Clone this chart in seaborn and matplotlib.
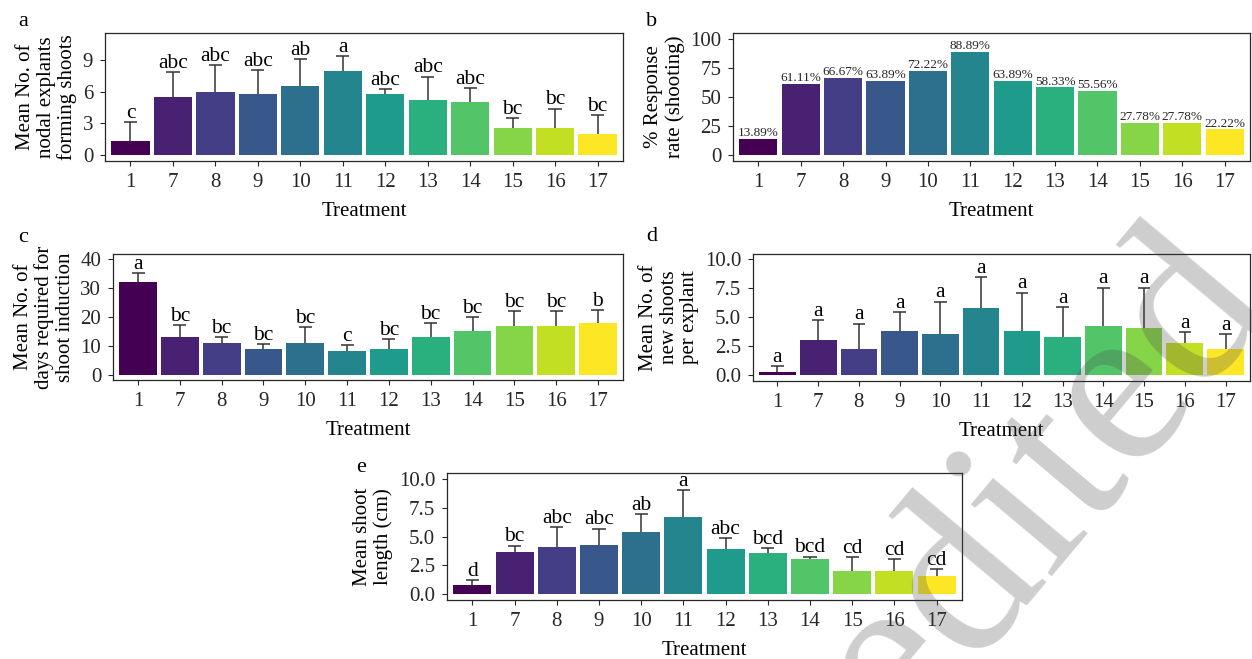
import numpy as np
import pandas as pd
import matplotlib
matplotlib.use("Agg")
import matplotlib.pyplot as plt
import seaborn as sns

# ---- data -------------------------------------------------------------
treatments = ["1", "7", "8", "9", "10", "11", "12", "13", "14", "15", "16", "17"]

# (a) mean number of nodal explants forming shoots
explants_mean = [1.3, 5.5, 6.0, 5.75, 6.55, 8.0, 5.75, 5.2, 5.0, 2.5, 2.5, 1.95]
explants_sd = [1.83, 2.38, 2.55, 2.33, 2.55, 1.38, 0.47, 2.24, 1.38, 0.98, 1.9, 1.85]
explants_grp = ["c", "abc", "abc", "abc", "ab", "a", "abc", "abc", "abc", "bc", "bc", "bc"]

# (b) % response rate (shooting)
response_pct = [13.89, 61.11, 66.67, 63.89, 72.22, 88.89, 63.89, 58.33, 55.56, 27.78, 27.78, 22.22]

# (c) mean number of days required for shoot induction
days_mean = [32.1, 13.05, 11.0, 8.9, 11.0, 8.2, 8.9, 13.05, 15.1, 16.9, 16.9, 17.9]
days_sd = [3.0, 4.0, 1.85, 1.75, 5.3, 1.95, 3.25, 4.65, 4.65, 5.1, 5.1, 4.3]
days_grp = ["a", "bc", "bc", "bc", "bc", "c", "bc", "bc", "bc", "bc", "bc", "b"]

# (d) mean number of new shoots per explant
shoots_mean = [0.23, 3.0, 2.22, 3.78, 3.52, 5.76, 3.78, 3.26, 4.24, 4.03, 2.74, 2.22]
shoots_sd = [0.52, 1.78, 2.22, 1.67, 2.82, 2.71, 3.34, 2.62, 3.31, 3.52, 0.95, 1.30]
shoots_grp = ["a"] * 12

# (e) mean shoot length (cm)
length_mean = [0.81, 3.67, 4.10, 4.28, 5.40, 6.71, 3.93, 3.58, 3.06, 2.02, 2.02, 1.59]
length_sd = [0.40, 0.55, 1.71, 1.41, 1.51, 2.28, 0.90, 0.41, 0.21, 1.19, 1.01, 0.61]
length_grp = ["d", "bc", "abc", "abc", "ab", "a", "abc", "bcd", "bcd", "cd", "cd", "cd"]

# ---- style ------------------------------------------------------------
sns.set_theme(style="ticks")
plt.rcParams["font.family"] = ["Liberation Serif", "DejaVu Serif"]

INK = "#262626"
TICK_FS = 15
LABEL_FS = 15
GROUP_FS = 15.5
PCT_FS = 9.5

colors = [matplotlib.colormaps["viridis"](v) for v in np.linspace(0, 1, len(treatments))]
palette = dict(zip(treatments, colors))

fig = plt.figure(figsize=(12.52, 6.59), dpi=100)
W, H = 1252, 659


def add_axes_px(x0, y0, x1, y1):
    return fig.add_axes([x0 / W, 1 - y1 / H, (x1 - x0) / W, (y1 - y0) / H])


def bar_panel(ax, values, ylabel, ylim, yticks, yfmt, sd=None, groups=None, pct=False):
    df = pd.DataFrame({"Treatment": treatments, "value": values})
    sns.barplot(data=df, x="Treatment", y="value", hue="Treatment", palette=palette,
                order=treatments, hue_order=treatments, legend=False, width=0.9,
                saturation=1, linewidth=0, errorbar=None, ax=ax)
    pos = np.arange(len(treatments))
    vals = np.asarray(values, dtype=float)
    if sd is not None:
        tops = vals + np.asarray(sd)
        ax.vlines(pos, vals, tops, color="#333333", lw=1.1, zorder=3)
        ax.hlines(tops, pos - 0.155, pos + 0.155, color="#333333", lw=1.1, zorder=3)
        for x, t, g in zip(pos, tops, groups):
            ax.annotate(g, (x, t), xytext=(0, 3.0), textcoords="offset points",
                        ha="center", va="baseline", fontsize=GROUP_FS, color="black")
    if pct:
        for x, v in zip(pos, vals):
            ax.annotate(f"{v:.2f}%", (x, v), xytext=(0, 2.0), textcoords="offset points",
                        ha="center", va="baseline", fontsize=PCT_FS, color=INK)
    ax.set_xlim(-0.6, len(treatments) - 0.4)
    ax.set_ylim(*ylim)
    ax.set_yticks(yticks)
    ax.set_yticklabels([yfmt.format(t) for t in yticks])
    ax.set_xlabel("Treatment", fontsize=LABEL_FS, color="black", labelpad=7)
    ax.set_ylabel(ylabel, fontsize=LABEL_FS, color="black", labelpad=4, linespacing=1.1)
    ax.tick_params(axis="both", labelsize=TICK_FS, colors=INK, length=3.5, width=0.8, pad=5)
    for s in ax.spines.values():
        s.set_visible(True)
        s.set_color(INK)
        s.set_linewidth(0.9)


ax_a = add_axes_px(105, 33, 623, 161)
bar_panel(ax_a, explants_mean, "Mean No. of\nnodal explants\nforming shoots",
          (-0.6, 11.6), [0, 3, 6, 9], "{:.0f}", explants_sd, explants_grp)

ax_b = add_axes_px(733, 33, 1250, 161)
bar_panel(ax_b, response_pct, "% Response\nrate (shooting)",
          (-5, 105), [0, 25, 50, 75, 100], "{:.0f}", pct=True)

ax_c = add_axes_px(113, 254, 623, 380)
bar_panel(ax_c, days_mean, "Mean No. of\ndays required for\nshoot induction",
          (-1.9, 41.7), [0, 10, 20, 30, 40], "{:.0f}", days_sd, days_grp)

ax_d = add_axes_px(753, 254, 1250, 381)
bar_panel(ax_d, shoots_mean, "Mean No. of\nnew shoots\nper explant",
          (-0.52, 10.46), [0, 2.5, 5, 7.5, 10], "{:.1f}", shoots_sd, shoots_grp)

ax_e = add_axes_px(447, 473, 962, 600)
bar_panel(ax_e, length_mean, "Mean shoot\nlength (cm)",
          (-0.49, 10.49), [0, 2.5, 5, 7.5, 10], "{:.1f}", length_sd, length_grp)

# panel letters
for letter, (px, py) in zip("abcde", [(23, 21), (652, 21), (23, 238), (652, 236), (361, 467)]):
    fig.text(px / W, 1 - py / H, letter, fontsize=16, ha="center", va="center", color="black")

# diagonal stamp across the lower right
fig.text(1045 / W, 1 - 485 / H, "edited", fontsize=170, rotation=50,
         ha="center", va="center", rotation_mode="anchor",
         color="#4e4e4e", alpha=0.28, zorder=10)

fig.savefig("out.png", dpi=100)
